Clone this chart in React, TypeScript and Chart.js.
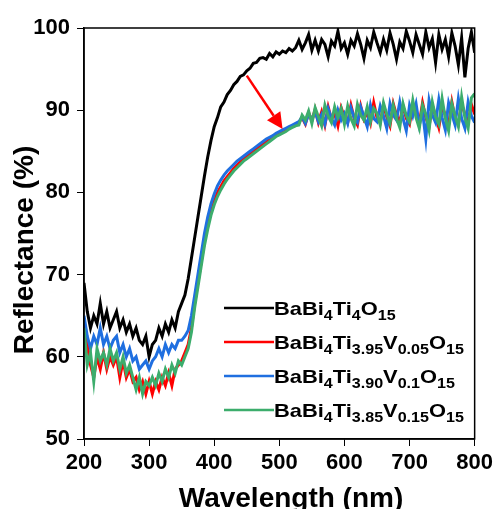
import React, { useEffect, useRef } from "react";
import { Chart, registerables } from "chart.js";

Chart.register(...registerables);

const wavelengths = [
  200, 205, 210, 215, 220, 225, 230, 235, 240, 245,
  250, 255, 260, 265, 270, 275, 280, 285, 290, 295,
  300, 305, 310, 315, 320, 325, 330, 335, 340, 345,
  350, 355, 360, 365, 370, 375, 380, 385, 390, 395,
  400, 405, 410, 415, 420, 425, 430, 435, 440, 445,
  450, 455, 460, 465, 470, 475, 480, 485, 490, 495,
  500, 505, 510, 515, 520, 525, 530, 535, 540, 545,
  550, 555, 560, 565, 570, 575, 580, 585, 590, 595,
  600, 605, 610, 615, 620, 625, 630, 635, 640, 645,
  650, 655, 660, 665, 670, 675, 680, 685, 690, 695,
  700, 705, 710, 715, 720, 725, 730, 735, 740, 745,
  750, 755, 760, 765, 770, 775, 780, 785, 790, 795,
  800,
];

const blackSeries = [
  69, 65.5, 63.5, 65, 64, 66.5, 64, 65.5, 63.5, 64.5,
  65.5, 63.5, 64.5, 63, 64, 62.5, 63.5, 62, 61.5, 62.5,
  60, 61.5, 62, 63.5, 62.5, 64, 63, 64.5, 63.5, 65.5,
  66.5, 67.5, 69.5, 72, 74.5, 77, 79.5, 82, 84.3, 86.3,
  88, 89.1, 90.4, 91, 91.9, 92.4, 93.1, 93.5, 94.1, 94.3,
  94.8, 95.1, 95.7, 95.8, 96.3, 96.4, 96.2, 96.9, 96.5, 97.1,
  96.8, 97.2, 97, 97.5, 97.2, 97.6, 98.5, 97.4, 98.2, 99.2,
  97.3, 98.5, 97.2, 98.6, 98, 96.5, 98.4, 97.8, 99.6, 97.5,
  98.2, 96.8, 98.5, 97.8, 99.3, 98, 96.3, 98.5, 97.6, 99.5,
  98.2, 97, 98.6, 97.3, 99.4, 98, 96.2, 98.3, 97.5, 99.6,
  98.4, 97, 99.2, 98, 96.8, 99.5, 97.6, 98.7, 95.8, 99.2,
  97.4, 98.6, 96.5, 99.4, 97.8, 95.5, 98.8, 94, 97.5, 99.5,
  97,
];

const redSeries = [
  64, 61.5, 59, 57.5, 60, 58.5, 60.5, 58.5, 60, 59,
  60, 57.5, 59.5, 57.5, 58.5, 57, 57.5, 56, 57, 55.5,
  57, 55.5, 57, 56, 57.5, 56.5, 58, 56.5, 58.5, 59,
  59.5, 60.5, 61.5, 63.5, 66.5, 69, 71.5, 74, 76, 77.6,
  78.9, 80, 80.7, 81.4, 81.9, 82.4, 82.9, 83.3, 83.7, 84.1,
  84.4, 84.7, 85, 85.3, 85.6, 85.9, 86.2, 86.5, 86.8, 87,
  87.2, 87.4, 87.6, 87.9, 88.1, 88.3, 88.5, 89.1, 88.3, 89.7,
  88.7, 90.1, 88.5, 89.8, 88.2, 90.4, 88.9, 89.6, 88.1, 90.3,
  89.2, 88.5, 90.6, 89, 88.2, 90.5, 88.9, 89.7, 88.4, 90.9,
  89.1, 88.5, 90.6, 89.2, 88.1, 90.8, 89.4, 88.6, 90.5, 89,
  88.3, 90.7, 89.5, 88.4, 90.9, 89.1, 88, 90.6, 89.3, 87.9,
  90.5, 89.4, 88.2, 91, 89, 88.3, 90.8, 89.5, 88.6, 90.7,
  89.5,
];

const blueSeries = [
  65, 62.5, 61, 62.5, 61.5, 63.5, 61.5, 62.5, 61, 62,
  62.5, 60.5, 61.5, 60, 61, 59.5, 60, 58.5, 59, 59.5,
  58.5, 59.5, 60, 61, 60, 61.5, 60.5, 61.5, 61, 62,
  62, 62.5, 63.2, 65, 67.5, 70, 72.5, 75, 77, 78.6,
  79.8, 80.8, 81.5, 82.1, 82.6, 83, 83.4, 83.8, 84.1, 84.4,
  84.7, 85, 85.3, 85.6, 85.9, 86.2, 86.5, 86.7, 86.9, 87.2,
  87.4, 87.6, 87.8, 88, 88.2, 88.4, 88.6, 89.2, 88.4, 89.5,
  88.9, 89.8, 88.6, 89.5, 88.3, 90.2, 89, 88.2, 90, 88.8,
  89.6, 88.4, 90.3, 89.1, 88.5, 90.4, 89.2, 88, 90.6, 89,
  88.6, 90.5, 89.3, 87.8, 90.8, 89.4, 88.8, 91, 89, 87.5,
  90.6, 89.3, 90.8, 88.2, 89.8, 86.5, 91.2, 89.4, 88.5, 91.3,
  89.1, 87.6, 90.9, 89.5, 88.2, 91.4, 89, 87.8, 91, 89.3,
  88.5,
];

const greenSeries = [
  63.5, 59, 60.5, 57, 61, 59.5, 60.5, 59, 61, 59.5,
  60.5, 58.5, 60, 58, 59, 57.5, 56, 57.5, 55.5, 57,
  56.5, 57.5, 56.5, 58, 57, 58.5, 57.5, 59, 58, 59.5,
  59, 60, 61, 63, 66, 68.5, 71, 73.5, 75.5, 77.2,
  78.5, 79.5, 80.3, 81, 81.6, 82.1, 82.6, 83, 83.4, 83.8,
  84.1, 84.4, 84.7, 85, 85.3, 85.6, 85.9, 86.2, 86.5, 86.8,
  87, 87.2, 87.4, 87.7, 87.9, 88.1, 88.2, 89.4, 88.8, 89.9,
  88.4, 90.3, 89.2, 88.1, 90.6, 89.3, 88.5, 90.4, 89.1, 90.2,
  88.3, 90.5, 89, 88.1, 90.7, 89.4, 88.8, 90.4, 88.6, 90.2,
  89.6, 88.2, 90.9, 89.5, 88.4, 90.6, 89, 87.9, 90.8, 89.3,
  88.6, 91.2, 89.1, 87.8, 90.6, 89.5, 87.6, 91, 89.2, 88.3,
  91.4, 89, 87.5, 90.8, 89.3, 88, 91.6, 89.1, 87.8, 91.5,
  92,
];

const seriesLabels = [
  "BaBi_{4}Ti_{4}O_{15}",
  "BaBi_{4}Ti_{3.95}V_{0.05}O_{15}",
  "BaBi_{4}Ti_{3.90}V_{0.1}O_{15}",
  "BaBi_{4}Ti_{3.85}V_{0.15}O_{15}",
];
const seriesColors = ["#000000", "#ff0000", "#1f6fe0", "#3cad6c"];
const xTicks = [200, 300, 400, 500, 600, 700, 800];
const yTicks = [50, 60, 70, 80, 90, 100];
const arrowStart = { x: 450, y: 94.2 };
const arrowEnd = { x: 505, y: 87.7 };
const xTitle = "Wavelength (nm)";
const yTitle = "Reflectance (%)";

const FONT = '"Liberation Sans", Arial, sans-serif';

function parseLabel(s: string) {
  const parts: { t: string; sub: boolean }[] = [];
  const re = /([^_]+?)(?=_\{|$)|_\{([^}]*)\}/g;
  let m: RegExpExecArray | null;
  while ((m = re.exec(s)) !== null) {
    if (m[1] !== undefined) parts.push({ t: m[1], sub: false });
    else if (m[2] !== undefined) parts.push({ t: m[2], sub: true });
  }
  return parts;
}

const decorPlugin = {
  id: "decor",
  afterDatasetsDraw(chart: any) {
    const { ctx, scales } = chart;
    const xs = scales.x, ys = scales.y;
    const x1 = xs.getPixelForValue(arrowStart.x);
    const y1 = ys.getPixelForValue(arrowStart.y);
    const x2 = xs.getPixelForValue(arrowEnd.x);
    const y2 = ys.getPixelForValue(arrowEnd.y);
    const ang = Math.atan2(y2 - y1, x2 - x1);
    const headLen = 16, headW = 8;
    const bx = x2 - headLen * Math.cos(ang);
    const by = y2 - headLen * Math.sin(ang);
    ctx.save();
    ctx.strokeStyle = "#ff0000";
    ctx.fillStyle = "#ff0000";
    ctx.lineWidth = 2.5;
    ctx.beginPath();
    ctx.moveTo(x1, y1);
    ctx.lineTo(bx, by);
    ctx.stroke();
    ctx.beginPath();
    ctx.moveTo(x2, y2);
    ctx.lineTo(bx + headW * Math.sin(ang), by - headW * Math.cos(ang));
    ctx.lineTo(bx - headW * Math.sin(ang), by + headW * Math.cos(ang));
    ctx.closePath();
    ctx.fill();
    ctx.restore();
  },
  afterDraw(chart: any) {
    const { ctx, chartArea } = chart;
    ctx.save();
    ctx.strokeStyle = "#000";
    ctx.lineWidth = 1.5;
    ctx.strokeRect(chartArea.left, chartArea.top, chartArea.right - chartArea.left, chartArea.bottom - chartArea.top);

    ctx.fillStyle = "#000";
    ctx.font = `bold 28px ${FONT}`;
    ctx.textAlign = "center";
    ctx.textBaseline = "alphabetic";
    ctx.fillText(xTitle, 291, 507);
    ctx.save();
    ctx.translate(33, 250);
    ctx.rotate(-Math.PI / 2);
    ctx.fillText(yTitle, 0, 0);
    ctx.restore();

    const rows = [308, 342, 376, 410];
    seriesLabels.forEach((lab, i) => {
      const y = rows[i];
      ctx.strokeStyle = seriesColors[i];
      ctx.lineWidth = 2.5;
      ctx.beginPath();
      ctx.moveTo(224, y);
      ctx.lineTo(274, y);
      ctx.stroke();
      ctx.save();
      ctx.translate(274, y + 6.5);
      ctx.scale(1.15, 1);
      ctx.fillStyle = "#000";
      ctx.textAlign = "left";
      ctx.textBaseline = "alphabetic";
      let cx = 0;
      for (const p of parseLabel(lab)) {
        ctx.font = p.sub ? `bold 14px ${FONT}` : `bold 19px ${FONT}`;
        ctx.fillText(p.t, cx, p.sub ? 5 : 0);
        cx += ctx.measureText(p.t).width;
      }
      ctx.restore();
    });
    ctx.restore();
  },
};

export default function App() {
  const ref = useRef<HTMLCanvasElement | null>(null);
  useEffect(() => {
    if (!ref.current) return;
    const mk = (vals: number[]) => wavelengths.map((w, i) => ({ x: w, y: vals[i] }));
    const all = [blackSeries, redSeries, blueSeries, greenSeries];
    const orders = [3, 2, 1, 0];
    const chart = new Chart(ref.current, {
      type: "line",
      data: {
        datasets: all.map((vals, i) => ({
          label: seriesLabels[i],
          data: mk(vals),
          borderColor: seriesColors[i],
          backgroundColor: seriesColors[i],
          borderWidth: 3,
          pointRadius: 0,
          tension: 0,
          order: orders[i],
        })),
      },
      options: {
        animation: false,
        responsive: false,
        devicePixelRatio: 1,
        layout: { padding: { top: 28, right: 22, left: 0, bottom: 0 } },
        plugins: { legend: { display: false }, tooltip: { enabled: false } },
        scales: {
          x: {
            type: "linear",
            min: 200,
            max: 800,
            afterFit: (s: any) => { s.height = 70; },
            afterBuildTicks: (s: any) => { s.ticks = xTicks.map((v) => ({ value: v })); },
            ticks: { color: "#000", font: { family: FONT, size: 22, weight: "bold" }, padding: 4, maxRotation: 0 },
            grid: { drawOnChartArea: false, drawTicks: true, tickLength: 7, color: "#000", lineWidth: 1 },
            border: { display: true, color: "#000", width: 1.5 },
          },
          y: {
            type: "linear",
            min: 50,
            max: 100,
            afterFit: (s: any) => { s.width = 84; },
            afterBuildTicks: (s: any) => { s.ticks = yTicks.map((v) => ({ value: v })); },
            ticks: { color: "#000", font: { family: FONT, size: 22, weight: "bold" }, padding: 7 },
            grid: { drawOnChartArea: false, drawTicks: true, tickLength: 7, color: "#000", lineWidth: 1 },
            border: { display: true, color: "#000", width: 1.5 },
          },
        },
      } as any,
      plugins: [decorPlugin],
    });
    return () => chart.destroy();
  }, []);
  return (
    <div style={{ position: "absolute", left: 0, top: 0, width: 497, height: 509, background: "#fff" }}>
      <canvas ref={ref} width={497} height={509} />
    </div>
  );
}
